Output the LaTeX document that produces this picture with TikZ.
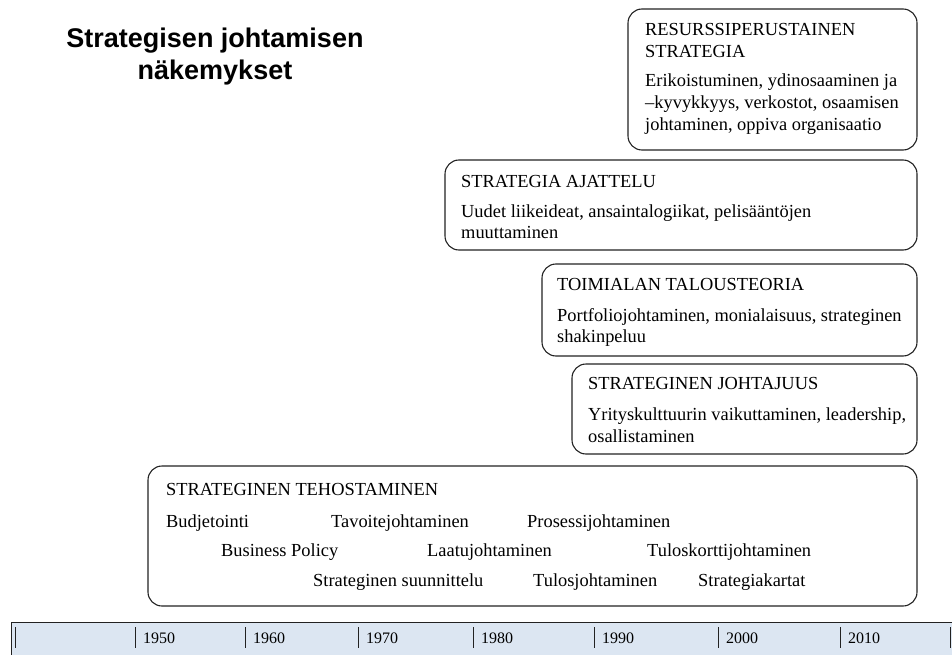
\documentclass[tikz,border=0pt]{standalone}
\usepackage{fontspec}
\setmainfont{Liberation Serif}
\newfontfamily\titlefont{Liberation Sans}
\definecolor{barfill}{HTML}{DCE6F2}
\definecolor{linecol}{HTML}{222222}
\begin{document}
\begin{tikzpicture}[x=1pt,y=-1pt,
  era/.style={draw=linecol,line width=1.1pt,rounded corners=14pt},
  txt/.style={anchor=base west,inner sep=0pt,font=\fontsize{18.4}{22}\selectfont,text=black},
  yr/.style={anchor=base west,inner sep=0pt,font=\fontsize{16}{18}\selectfont,text=black},
  tick/.style={draw=linecol,line width=1pt}]
\useasboundingbox (0,0) rectangle (952,655);
% title
\node[align=center,font=\titlefont\bfseries\fontsize{27}{32}\selectfont,anchor=base] (title) at (215,80) {Strategisen johtamisen\\näkemykset};
% boxes
\draw[era] (628,9) rectangle (917,150);
\node[txt] (h1a) at (645,36) {RESURSSIPERUSTAINEN};
\node[txt] (h1b) at (645,58) {STRATEGIA};
\node[txt] (b1a) at (645,87) {Erikoistuminen, ydinosaaminen ja};
\node[txt] (b1b) at (645,109) {–kyvykkyys, verkostot, osaamisen};
\node[txt] (b1c) at (645,131) {johtaminen, oppiva organisaatio};

\draw[era] (445,160) rectangle (917,250);
\node[txt] (h2) at (461,187) {STRATEGIA AJATTELU};
\node[txt] (b2a) at (461,217) {Uudet liikeideat, ansaintalogiikat, pelisääntöjen};
\node[txt] (b2b) at (461,238) {muuttaminen};

\draw[era] (542,264) rectangle (917,356);
\node[txt] (h3) at (557,290) {TOIMIALAN TALOUSTEORIA};
\node[txt] (b3a) at (557,321) {Portfoliojohtaminen, monialaisuus, strateginen};
\node[txt] (b3b) at (557,342) {shakinpeluu};

\draw[era] (572,364) rectangle (917,454);
\node[txt] (h4) at (588,389) {STRATEGINEN JOHTAJUUS};
\node[txt] (b4a) at (588,420) {Yrityskulttuurin vaikuttaminen, leadership,};
\node[txt] (b4b) at (588,442) {osallistaminen};

\draw[era] (148,466) rectangle (917,606);
\node[txt] (h5) at (166,495) {STRATEGINEN TEHOSTAMINEN};
\node[txt] (r1a) at (166,527) {Budjetointi};
\node[txt] (r1b) at (331,527) {Tavoitejohtaminen};
\node[txt] (r1c) at (527,527) {Prosessijohtaminen};
\node[txt] (r2a) at (221,556) {Business Policy};
\node[txt] (r2b) at (427,556) {Laatujohtaminen};
\node[txt] (r2c) at (647,556) {Tuloskorttijohtaminen};
\node[txt] (r3a) at (313,586) {Strateginen suunnittelu};
\node[txt] (r3b) at (533,586) {Tulosjohtaminen};
\node[txt] (r3c) at (698,586) {Strategiakartat};

% timeline bar
\fill[barfill] (11,622) rectangle (952,655);
\draw[draw=linecol,line width=1pt] (11,655) -- (11,622) -- (952,622);
\foreach \x in {15,135,245,358,473,594,718,840,950} {\draw[tick] (\x,627) -- (\x,648);}
\node[yr] (y1950) at (143,643) {1950};
\node[yr] (y1960) at (253,643) {1960};
\node[yr] (y1970) at (366,643) {1970};
\node[yr] (y1980) at (481,643) {1980};
\node[yr] (y1990) at (602,643) {1990};
\node[yr] (y2000) at (726,643) {2000};
\node[yr] (y2010) at (848,643) {2010};
\end{tikzpicture}
\end{document}
